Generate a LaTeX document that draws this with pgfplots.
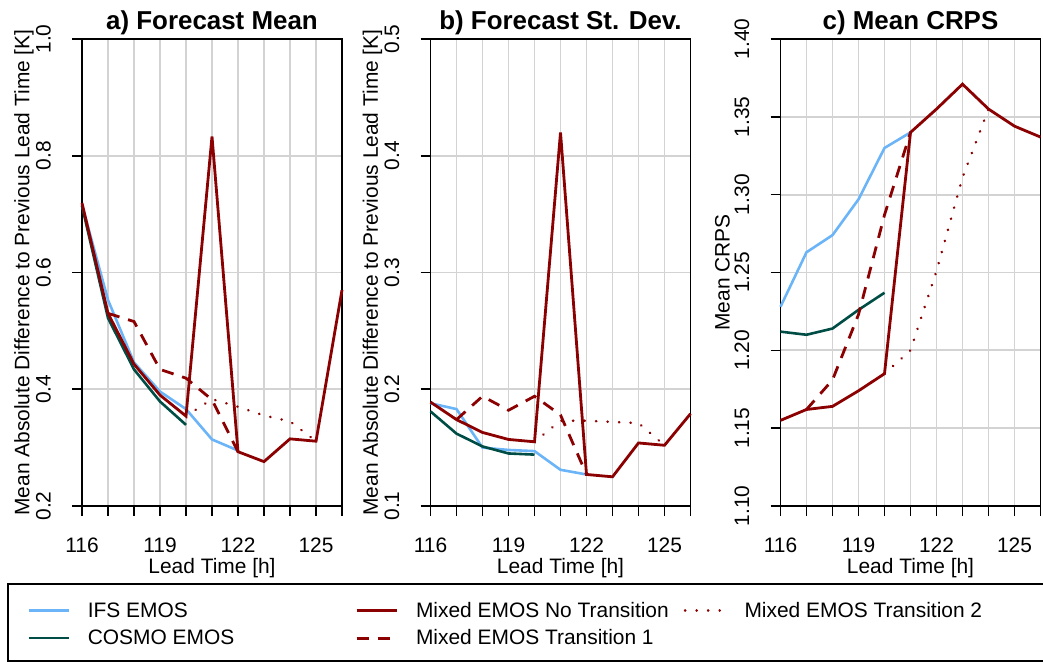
\documentclass[border=0pt]{standalone}
\usepackage{fontspec}
\setmainfont{Liberation Sans}
\usepackage{pgfplots}
\pgfplotsset{compat=1.18}
\definecolor{ifs}{HTML}{6CB4F8}
\definecolor{cosmo}{HTML}{004D45}
\definecolor{mixed}{HTML}{8B0000}
\definecolor{gridgray}{HTML}{D3D3D3}
\pgfplotsset{
 base/.style={
  scale only axis, width=260bp, height=467bp, anchor=south west,
  xmin=116, xmax=126,
  xtick={116,...,126},
 },
 gridonly/.style={base,
  grid=major, major grid style={color=gridgray, line width=1.8bp},
  axis line style={draw=none}, major tick length=0pt,
  xticklabels={}, yticklabels={},
 },
 panel/.style={base, clip=false,
  xticklabels={116,,,119,,,122,,,125,},
  axis line style={line width=1.8bp},
  xtick pos=bottom, ytick pos=left,
  xtick align=outside, ytick align=outside,
  major tick length=10bp,
  major tick style={draw=black, line width=1.6bp},
  tick label style={font=\fontsize{21}{25}\selectfont},
  label style={font=\fontsize{21}{25}\selectfont},
  title style={font=\fontsize{26}{30}\selectfont\bfseries, at={(axis description cs:0.5,1.022)}, anchor=center},
  xlabel={Lead Time [h]},
  xlabel style={at={(axis description cs:0.5,-0.134)}, anchor=center},
  ylabel style={at={(axis description cs:-0.2231,0.5)}, anchor=center},
  yticklabel style={xshift=-21bp, rotate=90, anchor=south, inner sep=0pt},
  xticklabel style={inner sep=0pt, anchor=north, yshift=-22bp},
 },
 ifsst/.style={color=ifs, line width=2.6bp},
 cosst/.style={color=cosmo, line width=2.6bp},
 mixst/.style={color=mixed, line width=2.8bp},
 t1st/.style={color=mixed, line width=2.8bp, dash pattern=on 12bp off 9bp},
 t2st/.style={color=mixed, line width=2.8bp, line cap=round, dash pattern=on 0.01bp off 11.5bp},
}
\begin{document}
\begin{tikzpicture}
\useasboundingbox (0,0) rectangle (1043bp,662bp);
% panel a
\begin{axis}[gridonly, at={(82bp,156bp)}, ymin=0.2, ymax=1.0, ytick={0.2,0.4,0.6,0.8,1.0}]
\end{axis}
\begin{axis}[panel, at={(82bp,156bp)}, ymin=0.2, ymax=1.0,
  ytick={0.2,0.4,0.6,0.8,1.0}, yticklabels={0.2,0.4,0.6,0.8,1.0},
  title={a) Forecast Mean},
  ylabel={Mean Absolute Difference to Previous Lead Time [K]}]
\addplot[ifsst] coordinates {(116,0.716)(117,0.553)(118,0.446)(119,0.396)(120,0.366)(121,0.314)(122,0.295)};
\addplot[cosst] coordinates {(116,0.714)(117,0.522)(118,0.434)(119,0.379)(120,0.339)};
\addplot[mixst] coordinates {(116,0.719)(117,0.530)(118,0.443)(119,0.390)(120,0.354)(121,0.833)(122,0.293)(123,0.276)(124,0.315)(125,0.311)(126,0.570)};
\addplot[t1st] coordinates {(117,0.530)(118,0.516)(119,0.434)(120,0.419)(121,0.382)(122,0.293)};
\addplot[t2st] coordinates {(120,0.354)(121,0.383)(122,0.370)(123,0.355)(124,0.345)(125,0.311)};
\end{axis}
% panel b
\begin{axis}[gridonly, at={(430.5bp,156bp)}, ymin=0.1, ymax=0.5, ytick={0.1,0.2,0.3,0.4,0.5}]
\end{axis}
\begin{axis}[panel, at={(430.5bp,156bp)}, ymin=0.1, ymax=0.5,
  ytick={0.1,0.2,0.3,0.4,0.5}, yticklabels={0.1,0.2,0.3,0.4,0.5},
  title={b) Forecast St. Dev.},
  ylabel={Mean Absolute Difference to Previous Lead Time [K]}]
\addplot[ifsst] coordinates {(116,0.188)(117,0.183)(118,0.150)(119,0.148)(120,0.147)(121,0.131)(122,0.127)};
\addplot[cosst] coordinates {(116,0.181)(117,0.162)(118,0.151)(119,0.145)(120,0.144)};
\addplot[mixst] coordinates {(116,0.189)(117,0.174)(118,0.163)(119,0.157)(120,0.155)(121,0.420)(122,0.127)(123,0.125)(124,0.154)(125,0.152)(126,0.179)};
\addplot[t1st] coordinates {(117,0.174)(118,0.194)(119,0.182)(120,0.194)(121,0.178)(122,0.127)};
\addplot[t2st] coordinates {(120,0.155)(121,0.173)(122,0.173)(123,0.172)(124,0.171)(125,0.152)};
\end{axis}
% panel c
\begin{axis}[gridonly, at={(780.5bp,156bp)}, ymin=1.10, ymax=1.40, ytick={1.10,1.15,1.20,1.25,1.30,1.35,1.40}]
\end{axis}
\begin{axis}[panel, at={(780.5bp,156bp)}, ymin=1.10, ymax=1.40,
  ytick={1.10,1.15,1.20,1.25,1.30,1.35,1.40}, yticklabels={1.10,1.15,1.20,1.25,1.30,1.35,1.40},
  title={c) Mean CRPS},
  ylabel={Mean CRPS}]
\addplot[ifsst] coordinates {(116,1.228)(117,1.263)(118,1.274)(119,1.297)(120,1.330)(121,1.340)};
\addplot[cosst] coordinates {(116,1.212)(117,1.210)(118,1.214)(119,1.226)(120,1.237)};
\addplot[mixst] coordinates {(116,1.155)(117,1.162)(118,1.164)(119,1.174)(120,1.185)(121,1.340)(122,1.355)(123,1.371)(124,1.355)(125,1.344)(126,1.337)};
\addplot[t1st] coordinates {(117,1.162)(118,1.181)(119,1.223)(120,1.287)(121,1.340)};
\addplot[t2st] coordinates {(120,1.185)(121,1.200)(122,1.251)(123,1.311)(124,1.355)};
\end{axis}
% legend
\draw[line width=1.2bp] (1060bp,78bp) -- (8bp,78bp) -- (8bp,1bp) -- (1060bp,1bp);
\draw[line width=2bp] (1007bp,78bp) -- (1043bp,78bp);
\begin{axis}[hide axis, scale only axis, width=1043bp, height=662bp, at={(0bp,0bp)}, anchor=south west,
  xmin=0, xmax=1, ymin=0, ymax=1,
  legend columns=3,
  legend image code/.code={\draw[#1] (0bp,0bp) -- (40bp,0bp);},
  legend style={draw=none, fill=none, inner sep=0pt, font=\fontsize{21}{25}\selectfont,
    at={(axis description cs:0.0259,0.0907)}, anchor=north west,
    nodes={inner sep=0pt, anchor=west},
    row sep=11bp,
    /tikz/every odd column/.append style={column sep=18bp},
    /tikz/column 2/.style={column sep=121bp},
    /tikz/column 4/.style={column sep=15bp}}]
\addlegendimage{ifsst}\addlegendentry{IFS EMOS}
\addlegendimage{mixst}\addlegendentry{Mixed EMOS No Transition}
\addlegendimage{t2st}\addlegendentry{Mixed EMOS Transition 2}
\addlegendimage{cosst}\addlegendentry{COSMO EMOS}
\addlegendimage{t1st}\addlegendentry{Mixed EMOS Transition 1}
\end{axis}
\end{tikzpicture}
\end{document}
